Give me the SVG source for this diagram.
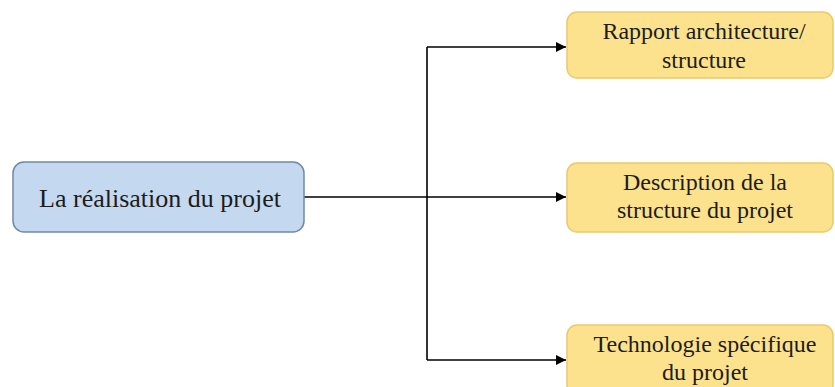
<svg xmlns="http://www.w3.org/2000/svg" width="835" height="387" viewBox="0 0 835 387">
<style>
.t{font-family:"Liberation Serif","Times New Roman",serif;fill:#1c1c1c;text-anchor:middle}
.r{font-size:24px}
.l{font-size:26px}
.box{fill:#fde28e;stroke:#ecc96c;stroke-width:1.5}
.src{fill:#c4d8ef;stroke:#6f8aa6;stroke-width:1.5}
.c{fill:none;stroke:#000;stroke-width:1.6}
</style>
<defs>
<marker id="ah" viewBox="0 0 10 10" refX="10" refY="5" markerWidth="14" markerHeight="10" markerUnits="userSpaceOnUse" orient="auto">
<path d="M0,0 L10,5 L0,10 Z" fill="#000"/>
</marker>
</defs>
<g id="connectors">
<path class="c" d="M304,197 H427"/>
<path class="c" d="M427,47 V360"/>
<path class="c" d="M427,47 H566" marker-end="url(#ah)"/>
<path class="c" d="M427,197 H566" marker-end="url(#ah)"/>
<path class="c" d="M427,360 H566" marker-end="url(#ah)"/>
</g>
<g id="n0">
<rect class="src" x="13" y="162" width="291" height="70" rx="11"/>
<text class="t l" x="160" y="207">La réalisation du projet</text>
</g>
<g id="n1">
<rect class="box" x="567" y="12" width="266" height="66" rx="10"/>
<text class="t r" x="704" y="39">Rapport architecture/</text>
<text class="t r" x="704" y="68">structure</text>
</g>
<g id="n2">
<rect class="box" x="567" y="163" width="266" height="69" rx="10"/>
<text class="t r" x="705" y="190">Description de la</text>
<text class="t r" x="705" y="218">structure du projet</text>
</g>
<g id="n3">
<rect class="box" x="567" y="325" width="266" height="70" rx="10"/>
<text class="t r" x="705" y="352">Technologie spécifique</text>
<text class="t r" x="705" y="380">du projet</text>
</g>
</svg>
